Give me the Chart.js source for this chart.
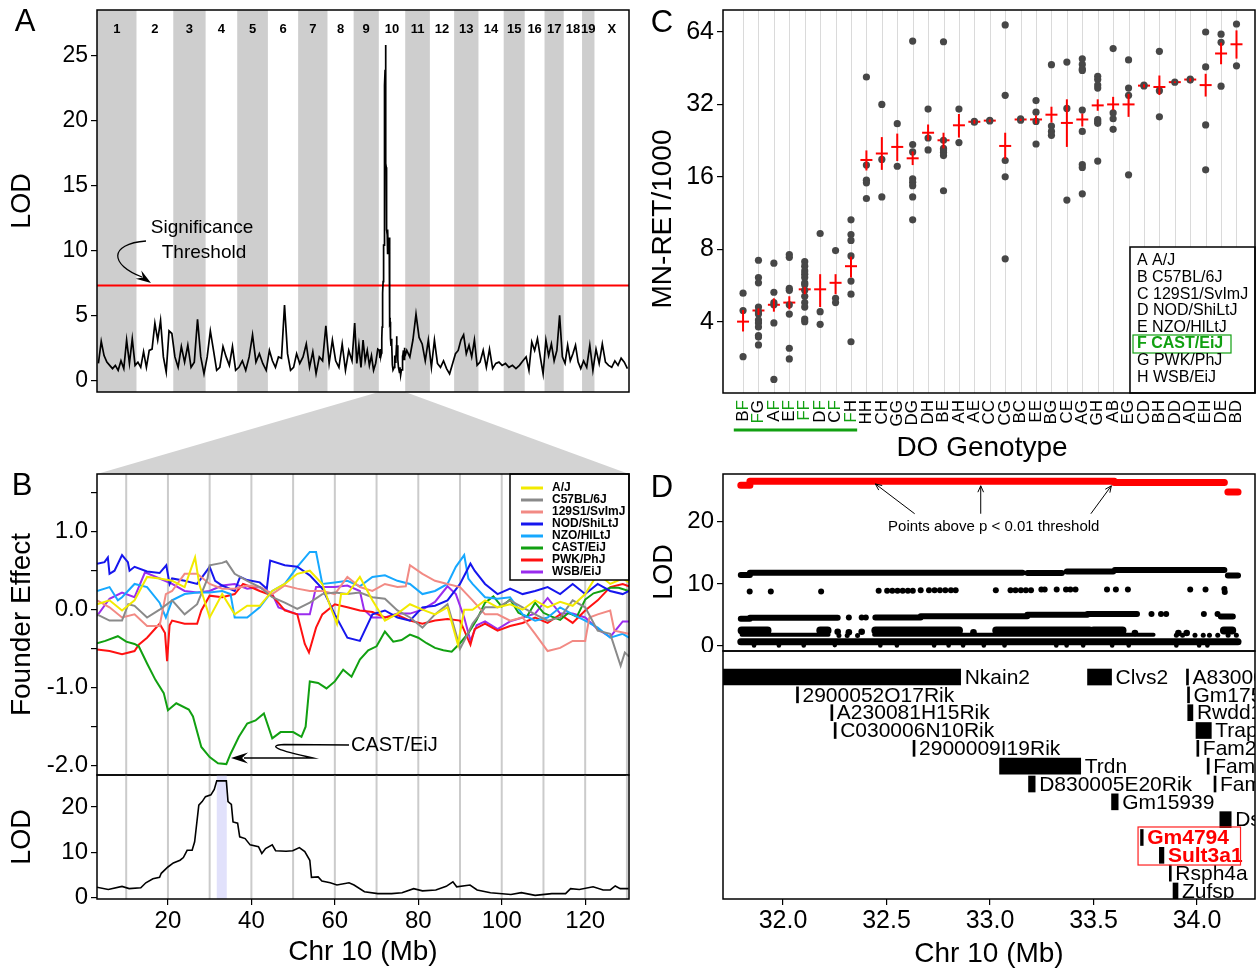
<!DOCTYPE html>
<html>
<head>
<meta charset="utf-8">
<title>MN-RET QTL on Chr 10</title>
<script src="https://cdn.jsdelivr.net/npm/chart.js@4.4.1/dist/chart.umd.min.js"></script>
<style>
html,body{margin:0;padding:0;background:#ffffff;}
#page{position:relative;width:1256px;height:971px;overflow:hidden;background:#ffffff;}
#page canvas{position:absolute;}
</style>
</head>
<body>
<div id="page">
<canvas id="bg" width="1256" height="971" style="left:0;top:0"></canvas>
<canvas id="cA" width="631" height="400" style="left:0;top:0"></canvas>
<canvas id="cBf" width="631" height="308" style="left:0;top:468px"></canvas>
<canvas id="cBl" width="631" height="201" style="left:0;top:770px"></canvas>
<canvas id="cC" width="616" height="470" style="left:640px;top:0"></canvas>
<canvas id="cDl" width="616" height="182" style="left:640px;top:470px"></canvas>
<canvas id="cDg" width="616" height="326" style="left:640px;top:645px"></canvas>
</div>
<script>
// ================= DATA =================
// ---- Panel A: genome scan ----
const chrNames = ['1','2','3','4','5','6','7','8','9','10','11','12','13','14','15','16','17','18','19','X'];
const chrLenMb = [195.5,182.1,160.0,156.5,151.8,149.7,145.4,129.4,124.6,130.7,122.1,120.1,120.4,124.9,104.0,98.2,95.0,90.7,61.4,171.0];
const lodChr1 = [1.3,3.0,1.9,1.4,1.15,0.9,1.15,0.77,1.5,0.9,3.1,1.3,3.2,1.15];
const lodChr2 = [1.4,1.0,2.2,1.0,2.3,2.4,4.4,3.1,4.6,1.8,0.64,3.8,3.6];
const lodChr3 = [1.8,1.0,2.6,1.4,2.7,1.0,1.4,4.7,1.8,0.5];
const lodChr4 = [1.8,3.8,2.3,0.77,1.0,2.6,1.8,1.15,2.6,0.77];
const lodChr5 = [1.0,1.5,0.77,1.8,3.5,1.4,2.05,1.3,0.77];
const lodChr6 = [2.3,1.5,1.0,1.8,1.7,5.8,2.05,0.77,1.0,2.05];
const lodChr7 = [1.3,1.8,2.8,1.0,2.2,0.5,1.8,1.5,4.2];
const lodChr8 = [1.3,3.1,1.5,1.0,2.8,0.77,2.3,1.5];
const lodChr9 = [4.4,1.3,2.7,1.0,3.1,1.5,2.3,1.15,1.9,0.77,1.3,2.4];
const lodChr11 = [2.3,1.8,3.1,5.1,3.3,2.8,1.5,3.1];
const lodChr12 = [1.0,3.1,1.3,1.0,1.5,0.9,0.5,1.3];
const lodChr13 = [2.05,2.3,3.1,3.5,2.05,2.7,1.8,3.1,1.15];
const lodChr14 = [1.4,2.3,1.0,2.4,0.9,1.3,1.4,1.15];
const lodChr15 = [1.3,1.0,1.15,0.9,1.15,1.5];
const lodChr16 = [1.8,0.77,2.95,2.3,3.2,1.8,0.5];
const lodChr17 = [3.1,1.9,2.8,1.5,2.3,5.0,1.8];
const lodChr18 = [1.3,2.7,1.5,2.05,2.7,1.4,0.9];
const lodChr19 = [1.5,1.0,2.7,0.77];
const lodChrX = [2.4,1.3,2.8,1.4,1.15,1.0,1.5,1.15,1.7,1.4,0.9];
const sigThreshold = 7.3;

// ---- Panel B: Chr 10 LOD and founder effects ----
const lodBMb  = [2.5,5.7,9.0,10.7,13.5,14.7,16.4,18.0,18.4,20.0,21.3,22.9,23.7,24.6,25.8,26.4,27.4,28.2,29.0,30.3,31.1,31.7,34.0,34.4,35.2,35.6,36.7,37.2,38.5,39.7,41.7,42.5,43.4,45.0,45.8,48.3,49.9,51.5,52.8,54.0,54.4,56.0,56.9,58.9,60.5,63.4,64.6,67.1,70.3,73.6,76.1,78.9,81.0,84.2,86.7,88.3,89.2,92.4,94.1,97.3,102.2,104.7,108.0,112.0,115.3,116.5,118.6,121.9,124.3,126.0,127.2,128.4,130.4];
const lodBVal = [2.3,1.7,2.4,1.9,2.1,3.2,4.1,4.4,5.3,6.7,7.6,8.2,8.8,10.4,10.4,12.3,20.4,21.2,22.3,22.7,23.9,25.8,25.8,21.2,20.6,16.7,16.4,13.4,13.0,11.6,11.2,9.7,10.8,11.6,10.3,10.2,10.3,11.0,10.1,8.2,4.4,4.5,3.6,3.2,2.7,3.2,2.7,1.2,0.8,0.8,1.0,1.9,1.4,1.6,2.4,3.4,2.3,2.7,1.6,1.0,0.6,1.0,0.4,0.8,0.8,1.9,1.7,2.3,1.6,1.6,2.5,1.9,1.9];
const peakIntervalMb = [31.7, 34.1];
const founderNames = ['A/J','C57BL/6J','129S1/SvImJ','NOD/ShiLtJ','NZO/HlLtJ','CAST/EiJ','PWK/PhJ','WSB/EiJ'];
const founderColors = ['#f2ea00','#8a8a8a','#f28a84','#1616ee','#16a8ff','#11a011','#ff1111','#9a2cee'];
const effAJ = [[3,0.07],[6,0.12],[9,-0.01],[12,0.12],[15,0.42],[18,0.40],[21,0.37],[24,0.29],[26.5,0.67],[27.5,0.33],[30,-0.10],[33,0.20],[36,-0.06],[39,0.05],[42,0.05],[45,0.24],[48,0.33],[51,0.46],[54,0.50],[57,0.33],[59,0.03],[60.5,-0.18],[61.5,0.20],[63,0.20],[66,0.42],[69,0.12],[72,-0.14],[75,-0.05],[78,0.07],[81,0.0],[84,-0.06],[87,0.03],[89.5,-0.45],[91,0.0],[93,0.0],[96,0.12],[99,0.03],[102,0.07],[105,0.0],[108,0.12],[111,0.03],[114,0.10],[117,0.05],[120,0.20],[123,0.46],[126,0.33],[129,0.40],[130.5,0.35]];
const effB6 = [[3,-0.06],[6,-0.14],[9,-0.14],[10.5,0.07],[12,0.05],[15,-0.10],[18,0.0],[21,0.12],[24,-0.06],[27,0.07],[29.5,0.40],[30,0.57],[33,0.60],[34,0.62],[36,0.46],[39,0.37],[42,0.29],[45,0.16],[48,0.09],[51,0.01],[54,0.09],[57,0.20],[60,0.22],[63,0.20],[66,0.22],[69,0.16],[72,0.14],[75,-0.01],[78,-0.10],[81,-0.23],[84,-0.06],[87,0.07],[89,-0.30],[90,-0.50],[91,-0.40],[93,-0.18],[96,0.03],[99,0.03],[102,0.12],[105,0.03],[108,-0.06],[111,-0.14],[114,-0.10],[117,0.12],[120,0.03],[123,-0.27],[126,-0.31],[128.5,-0.72],[129.5,-0.55],[130.5,-0.60]];
const eff129 = [[3,0.12],[6,0.03],[9,-0.10],[12,-0.06],[15,-0.21],[18,-0.21],[19.5,0.20],[21,0.24],[24,0.46],[27,0.46],[30,0.33],[33,0.27],[36,0.27],[39,0.31],[42,0.29],[45,0.20],[48,0.31],[51,0.27],[54,0.24],[57,0.24],[60,0.20],[63,0.42],[66,0.29],[69,0.24],[72,0.33],[75,0.29],[77,0.30],[78,0.57],[81,0.46],[84,0.37],[87,0.33],[90,0.29],[93,0.12],[96,-0.06],[99,-0.06],[102,-0.14],[105,-0.10],[108,-0.31],[111,-0.53],[114,-0.49],[117,-0.40],[120,-0.40],[121,-0.10],[123,-0.06],[126,-0.01],[127,-0.27],[130.5,-0.31]];
const effNOD = [[3,0.59],[4.8,0.61],[5.6,0.67],[6,0.46],[7.2,0.50],[9,0.70],[10.4,0.61],[10.8,0.50],[12,0.55],[15,0.49],[18,0.47],[19.6,0.57],[20.4,0.33],[21,0.40],[24,0.37],[27,0.33],[30,0.55],[31.3,0.37],[33,0.31],[36,0.24],[37.3,0.42],[39,0.38],[42,0.35],[43.7,0.27],[44.5,0.63],[48,0.57],[51,0.55],[54,0.44],[57,0.27],[60,-0.06],[63,-0.36],[66,-0.40],[69,-0.06],[72,-0.01],[75,-0.10],[78,-0.14],[81,0.03],[84,0.05],[87,0.12],[90,0.33],[92.5,0.59],[93.5,0.50],[96,0.33],[99,0.20],[102,0.27],[105,0.20],[108,0.24],[111,0.29],[114,0.20],[117,0.33],[120,0.20],[123,0.33],[126,0.24],[129,0.20],[130.5,0.24]];
const effNZO = [[3,0.24],[6,0.29],[8,0.12],[9,0.16],[12,0.33],[15,0.29],[18,0.09],[19.5,-0.10],[21,0.12],[24,0.20],[27,0.22],[30,0.22],[33,0.24],[35,0.20],[36,-0.10],[39,-0.10],[42,0.03],[45,0.24],[48,0.33],[51,0.55],[54,0.74],[55.5,0.74],[57,0.33],[60,0.35],[63,0.37],[66,0.30],[69,0.42],[72,0.44],[75,0.37],[78,0.33],[81,0.20],[84,0.24],[87,0.33],[89,0.55],[91,0.70],[92,0.40],[93,0.33],[96,0.16],[99,0.14],[102,0.16],[105,-0.06],[108,-0.14],[111,-0.10],[114,0.03],[117,-0.06],[120,-0.14],[123,-0.23],[126,-0.36],[129,-0.31],[130.5,-0.36]];
const effCAST = [[3,-0.43],[5,-0.40],[8,-0.34],[10,-0.41],[12,-0.44],[13,-0.47],[15,-0.69],[17,-0.90],[19,-1.07],[20,-1.29],[22,-1.20],[25,-1.28],[26,-1.37],[28,-1.76],[30,-1.89],[32,-1.97],[34,-1.98],[35,-1.85],[37,-1.63],[39,-1.46],[41,-1.42],[43,-1.33],[45,-1.65],[47,-1.57],[50,-1.57],[52,-1.63],[53,-1.50],[54,-0.92],[56,-0.94],[58,-1.01],[60,-0.92],[62,-0.77],[64,-0.86],[66,-0.64],[68,-0.52],[70,-0.47],[72,-0.28],[74,-0.41],[76,-0.39],[78,-0.32],[80,-0.36],[82,-0.43],[84,-0.49],[86,-0.52],[88,-0.54],[90,-0.43],[92,-0.30],[94,-0.13],[96,0.09],[98,0.17],[100,0.04],[102,0.13],[104,-0.04],[106,-0.09],[108,0.09],[110,-0.04],[112,-0.09],[114,-0.13],[116,-0.04],[118,-0.09],[120,0.13],[122,0.21],[124,0.24],[126,0.28],[128,0.28],[130.5,0.24]];
const effPWK = [[3,-0.51],[6,-0.53],[9,-0.57],[12,-0.53],[13,-0.45],[15,-0.36],[18,-0.18],[19.3,-0.30],[19.8,-0.66],[20.4,-0.20],[21,-0.14],[24,-0.18],[27,-0.18],[28,-0.01],[30,0.18],[33,0.16],[36,0.20],[38,0.33],[39,0.31],[42,0.24],[45,0.18],[48,-0.01],[51,-0.06],[52.8,-0.44],[53.8,-0.55],[55.5,-0.23],[57,-0.06],[60,0.07],[63,0.03],[66,-0.01],[69,-0.03],[72,-0.10],[75,-0.07],[78,-0.14],[81,-0.18],[84,-0.14],[87,-0.12],[90,-0.14],[92.5,-0.45],[93.5,-0.25],[96,-0.18],[99,-0.27],[102,-0.21],[105,-0.17],[108,-0.10],[111,-0.17],[114,-0.06],[117,-0.17],[120,-0.01],[123,0.12],[126,0.29],[129,0.33],[130.5,0.30]];
const effWSB = [[3,-0.08],[6,0.14],[9,0.22],[12,0.16],[14.5,0.48],[18,0.40],[21,0.33],[24,0.24],[27,0.22],[30,0.24],[33,0.31],[36,0.33],[39,0.27],[42,0.29],[45,0.20],[46.5,0.03],[48,0.0],[51,-0.06],[54,-0.06],[55.5,0.29],[57,0.29],[60,0.29],[63,0.31],[66,0.24],[67,0.0],[69,-0.10],[72,-0.10],[75,-0.05],[78,-0.05],[81,0.0],[84,0.10],[87,0.30],[89,0.20],[91,-0.10],[92.5,-0.40],[94,-0.20],[96,-0.15],[99,-0.25],[102,-0.15],[105,-0.10],[108,-0.05],[111,0.15],[114,-0.05],[117,-0.05],[120,-0.10],[123,-0.25],[126,-0.35],[129,-0.15],[130.5,-0.15]];
const chr10GridMb = [10,20,30,40,50,60,70,80,90,100,110,120,130];

// ---- Panel C: MN-RET by DO genotype ----
const genotypes = ['BF','FG','AF','EF','FF','DF','CF','FH','HH','CH','GG','DG','DH','BE','AH','AE','CC','CG','BC','EE','BG','CE','AG','GH','AB','EG','CD','BH','DD','AD','EH','DE','BD'];
const mnretMean = [4.0,4.45,4.7,4.8,5.45,5.45,5.8,6.8,18.8,20.0,21.3,19.1,24.4,22.7,26.2,27.1,27.4,21.5,27.7,27.7,29.0,26.8,27.7,31.7,32.0,32.0,38.3,37.8,39.6,40.6,38.5,52.1,56.9];
const mnretLo = [3.64,4.26,4.4,4.5,5.2,4.6,5.2,6.1,17.0,17.1,18.6,17.9,22.7,21.0,23.3,26.6,27.0,19.0,27.3,26.6,26.9,21.3,25.9,30.1,30.3,28.4,37.6,35.0,39.3,39.8,34.5,47.0,49.6];
const mnretHi = [4.47,4.54,5.0,5.1,5.58,6.3,6.3,7.45,20.6,23.4,24.2,20.4,26.4,24.4,29.2,27.6,27.7,24.4,27.9,28.8,31.3,33.6,29.3,33.6,34.4,35.4,38.8,42.2,39.9,41.1,42.9,57.8,65.0];
const mnretMice = [
 [5.25,4.45,2.86],
 [7.2,6.1,5.8,4.6,4.4,4.3,4.06,3.95,3.8,3.5,3.45,3.2],
 [7.0,5.3,4.8,4.7,3.95,2.3],
 [7.6,7.4,5.5,5.4,4.7,4.3,3.1,2.8],
 [7.1,6.8,6.5,6.3,6.1,5.8,5.7,5.4,5.1,4.8,4.6,4.1,4.0],
 [9.3,4.4,3.9],
 [7.9,5.0,4.8],
 [10.6,9.2,8.7,7.5,5.9,5.2,3.3],
 [41.6,17.9,15.5,15.1,13.0],
 [32.0,18.9,13.2],
 [26.6,17.7],
 [58.7,21.8,20.3,15.7,15.2,14.7,13.2,10.6],
 [30.6,23.2,20.7],
 [58.3,22.7,21.0,20.7,20.2,19.6,14.0],
 [30.6,22.2],
 [27.2,27.0],
 [27.5,27.3],
 [68.5,34.9,18.7,16.0,7.3],
 [27.9,27.5],
 [33.2,29.7,27.2,21.9],
 [46.8,26.0,24.7,23.8],
 [48.0,30.8,12.8],
 [49.5,46.9,44.9,44.3,30.3,24.7,18.0,17.5,13.6],
 [41.9,40.6,38.5,37.4,27.7,27.2,26.7,18.6],
 [54.6,29.5,27.9,25.2],
 [49.0,37.4,34.9,16.3],
 [38.5,38.2],
 [53.2,36.5,28.4],
 [39.6],
 [40.8,40.4],
 [64.0,45.8,26.3,17.1],
 [62.7,58.0,38.1],
 [69.1,46.3]
];
const founderKey = ['A A/J','B C57BL/6J','C 129S1/SvImJ','D NOD/ShiLtJ','E NZO/HlLtJ','F CAST/EiJ','G PWK/PhJ','H WSB/EiJ'];
const cTicks = [4,8,16,32,64];

// ---- Panel D: fine mapping ----
const redBandSeg = [[31.796,31.84,25.9],[31.84,33.60,26.55],[33.60,34.132,26.35],[34.149,34.198,24.8]];
const topBandSeg = [[31.796,31.84,11.45],[31.84,33.157,11.8],[33.181,33.347,11.75],[33.371,33.595,12.0],[33.603,34.132,12.25],[34.149,34.198,11.35]];
const nineDotMb  = [31.839,31.941,32.184,32.462,32.503,32.528,32.553,32.578,32.603,32.627,32.665,32.705,32.732,32.758,32.784,32.811,32.834,33.028,33.099,33.123,33.149,33.173,33.198,33.248,33.264,33.322,33.367,33.388,33.413,33.565,33.608,33.666,33.967,34.041,34.132,34.134];
const nineDotLod = [8.8,8.8,8.8,8.9,8.9,8.9,8.9,8.9,8.9,8.9,9.0,9.0,9.0,9.0,9.0,9.0,9.0,9.0,9.0,9.0,9.0,9.0,9.0,9.1,9.1,9.1,9.1,9.1,9.1,9.1,9.1,9.1,9.1,9.1,9.2,8.7];
const midBandSeg = [[31.796,31.84,4.4],[31.84,32.264,4.55],[32.446,32.665,4.6],[32.665,33.18,4.8],[33.18,33.47,5.05],[33.47,33.71,5.15],[34.115,34.173,4.75]];
const midDots = [[32.318,4.6],[32.38,4.6],[32.40,4.6],[33.780,5.15],[33.826,5.15],[33.851,5.15],[34.033,5.15],[34.099,5.15]];
const blobSeg = [[31.80,31.925,2.5],[32.18,32.215,2.5],[32.446,32.85,2.5],[33.03,33.48,2.5],[33.50,33.64,2.5],[34.13,34.17,2.5]];
const blobDots = [[32.264,2.3],[32.318,2.2],[32.38,2.3],[32.92,2.2],[33.70,2.1],[33.91,2.1],[33.95,2.1]];
const lowLineSeg = [[31.80,32.22,1.8],[32.44,33.79,1.8]];
const lowLineDots = [[32.27,1.7],[32.31,1.7],[32.36,1.7],[33.90,1.75],[33.93,1.75],[33.99,1.75],[34.03,1.75],[34.06,1.75],[34.10,1.75],[34.15,1.75],[34.19,1.75]];
const baseSeg = [[31.796,34.198,0.7]];
const baseDots = [[31.86,0.1],[31.98,0.1],[32.10,0.1],[32.25,0.15],[32.47,0.1],[32.55,0.1],[32.73,0.1],[32.80,0.1],[32.87,0.1],[32.97,0.1],[33.07,0.1],[33.32,0.1],[33.37,0.1],[33.45,0.1],[33.59,0.1],[33.67,0.1],[33.90,0.1],[34.01,0.1],[34.05,0.1]];
const geneName    = ['Nkain2','Clvs2','A830008E24Rik','2900052O17Rik','Gm17586','A230081H15Rik','Rwdd1','C030006N10Rik','Trappc3l','2900009I19Rik','Fam26d','Trdn','Fam26e','D830005E20Rik','Fam26f','Gm15939','Dse','Gm4794','Sult3a1','Rsph4a','Zufsp'];
const geneStartMb = [31.50,33.471,33.949,32.065,33.954,32.231,33.955,32.247,33.995,32.628,33.999,33.046,34.049,33.186,34.082,33.587,34.110,33.727,33.818,33.866,33.884];
const geneEndMb   = [32.858,33.587,33.950,32.066,33.955,32.232,33.980,32.248,34.069,32.629,34.000,33.438,34.050,33.218,34.083,33.619,34.165,33.740,33.840,33.868,33.908];
const geneRow     = [0,0,0,1,1,2,2,3,3,4,4,5,5,6,6,7,8,9,10,11,12];
const highlightGenes = ['Gm4794','Sult3a1'];

// ================= SETUP =================
const FONT = "'Liberation Sans', Arial, Helvetica, sans-serif";
Chart.defaults.font.family = FONT;
Chart.defaults.color = '#000';
Chart.defaults.animation = false;
Chart.defaults.responsive = false;
Chart.defaults.maintainAspectRatio = false;
Chart.defaults.devicePixelRatio = 1;
Chart.defaults.events = [];
Chart.defaults.layout.autoPadding = false;
Chart.defaults.plugins.legend.display = false;
Chart.defaults.plugins.tooltip.enabled = false;

function fixedTicks(vals){ return s => { s.ticks = vals.map(v => ({value: v})); }; }
function fitY(w){ return s => { s.width = w; s.paddingTop = 0; s.paddingBottom = 0; }; }
function fitX(h){ return s => { s.height = h; s.paddingLeft = 0; s.paddingRight = 0; }; }
const tickGrid = {drawOnChartArea:false, drawTicks:true, tickLength:6, color:'#000', lineWidth:1.2};
function lay(l, r, t, b){ return {autoPadding:false, padding:{left:l, right:r, top:t, bottom:b}}; }

const framePlugin = { id:'frame', afterDraw(chart){ const {ctx, chartArea:a} = chart; ctx.save(); ctx.strokeStyle='#000'; ctx.lineWidth=1.5; ctx.strokeRect(a.left, a.top, a.right-a.left, a.bottom-a.top); ctx.restore(); } };

function stealth(ctx, x, y, ang, len, hw){ ctx.save(); ctx.translate(x,y); ctx.rotate(ang); ctx.beginPath(); ctx.moveTo(0,0); ctx.lineTo(-len,-hw); ctx.lineTo(-len*0.65,0); ctx.lineTo(-len,hw); ctx.closePath(); ctx.fill(); ctx.restore(); }
function openArrow(ctx, x0, y0, x1, y1){ ctx.beginPath(); ctx.moveTo(x0,y0); ctx.lineTo(x1,y1); const ang=Math.atan2(y1-y0,x1-x0), L=7, w=0.42; ctx.moveTo(x1-L*Math.cos(ang-w), y1-L*Math.sin(ang-w)); ctx.lineTo(x1,y1); ctx.lineTo(x1-L*Math.cos(ang+w), y1-L*Math.sin(ang+w)); ctx.stroke(); }
function segPts(segs){ const out=[]; segs.forEach(s => { out.push({x:s[0],y:s[2]},{x:s[1],y:s[2]},{x:s[1],y:null}); }); return out; }

// ================= PANEL A =================
const genomeScan = [lodChr1,lodChr2,lodChr3,lodChr4,lodChr5,lodChr6,lodChr7,lodChr8,lodChr9,null,lodChr11,lodChr12,lodChr13,lodChr14,lodChr15,lodChr16,lodChr17,lodChr18,lodChr19,lodChrX];
const chrStartMb = []; let genomeLenMb = 0;
chrLenMb.forEach(l => { chrStartMb.push(genomeLenMb); genomeLenMb += l; });
const scanPoints = [];
genomeScan.forEach((vals, i) => {
  if (vals === null) lodBMb.forEach((m, j) => scanPoints.push({x: chrStartMb[i] + m, y: lodBVal[j]}));
  else vals.forEach((v, j) => scanPoints.push({x: chrStartMb[i] + (j + 0.5) / vals.length * chrLenMb[i], y: v}));
});

const chrBandsPlugin = { id:'chrBands', beforeDatasetsDraw(chart){
  const {ctx, chartArea:a, scales:{x}} = chart; ctx.save();
  chrLenMb.forEach((len,i) => { if (i % 2 === 0) { const x0 = x.getPixelForValue(chrStartMb[i]), x1 = x.getPixelForValue(chrStartMb[i]+len); ctx.fillStyle = '#cecece'; ctx.fillRect(x0, a.top, x1-x0, a.bottom-a.top); } });
  ctx.fillStyle = '#000'; ctx.font = 'bold 13px ' + FONT; ctx.textAlign = 'center'; ctx.textBaseline = 'middle';
  chrLenMb.forEach((len,i) => { ctx.fillText(chrNames[i], x.getPixelForValue(chrStartMb[i]+len/2), 29); });
  ctx.restore(); } };
const annotA = { id:'annotA', afterDatasetsDraw(chart){
  const ctx = chart.ctx; ctx.save(); ctx.fillStyle='#000'; ctx.font='19px '+FONT; ctx.textAlign='center'; ctx.textBaseline='middle';
  ctx.fillText('Significance', 202, 228); ctx.fillText('Threshold', 204, 253);
  ctx.strokeStyle='#000'; ctx.lineWidth=1.3; ctx.beginPath(); ctx.moveTo(146,241); ctx.bezierCurveTo(108,244,110,265,142,277); ctx.stroke();
  stealth(ctx, 151, 283, Math.atan2(6,9), 15, 5);
  ctx.restore(); } };

const chartA = new Chart(document.getElementById('cA'), {
  type:'line',
  data:{ datasets:[
    {data: scanPoints, borderColor:'#000', borderWidth:1.7, pointRadius:0, tension:0},
    {data: [{x:0,y:sigThreshold},{x:genomeLenMb,y:sigThreshold}], borderColor:'#ff0000', borderWidth:2, pointRadius:0}
  ]},
  options:{
    layout: lay(0, 2, 10, 8),
    scales:{
      x:{type:'linear', min:0, max:genomeLenMb, display:false},
      y:{min:-0.9, max:28.5, border:{display:false}, grid:tickGrid, afterBuildTicks:fixedTicks([0,5,10,15,20,25]), afterFit:fitY(97),
         ticks:{font:{size:23}, padding:3, callback:v => String(v)},
         title:{display:true, text:'LOD', font:{size:27}, padding:{top:6, bottom:0}}}
    }
  },
  plugins:[chrBandsPlugin, annotA, framePlugin]
});

// ================= PANEL B =================
const gridPlugin = { id:'chr10grid', beforeDatasetsDraw(chart){
  const {ctx, chartArea:a, scales:{x}} = chart; ctx.save();
  if (chart.canvas.id === 'cBl') { const p0 = x.getPixelForValue(peakIntervalMb[0]), p1 = x.getPixelForValue(peakIntervalMb[1]); ctx.fillStyle = '#e1e1fb'; ctx.fillRect(p0, a.top, p1-p0, a.bottom-a.top); }
  ctx.strokeStyle = '#cbcbcb'; ctx.lineWidth = 2;
  chr10GridMb.forEach(m => { const px = x.getPixelForValue(m); if (px > a.left + 1 && px < a.right - 1) { ctx.beginPath(); ctx.moveTo(px, a.top); ctx.lineTo(px, a.bottom); ctx.stroke(); } });
  ctx.restore(); } };
const founderLegend = { id:'founderLegend', afterDatasetsDraw(chart){
  const ctx = chart.ctx, oy = 468; ctx.save();
  ctx.fillStyle = '#fff'; ctx.fillRect(510, 474-oy, 119, 106); ctx.strokeStyle = '#000'; ctx.lineWidth = 1.5; ctx.strokeRect(510, 474-oy, 119, 106);
  ctx.font = 'bold 12px ' + FONT; ctx.textAlign = 'left'; ctx.textBaseline = 'middle';
  founderNames.forEach((n,i) => { const y = 488 + i*12 - oy; ctx.strokeStyle = founderColors[i]; ctx.lineWidth = 3; ctx.beginPath(); ctx.moveTo(521,y); ctx.lineTo(543,y); ctx.stroke(); ctx.fillStyle = '#000'; ctx.fillText(n, 552, y); });
  ctx.fillStyle = '#000'; ctx.font = '20px ' + FONT; ctx.fillText('CAST/EiJ', 351, 745-oy);
  ctx.strokeStyle = '#000'; ctx.lineWidth = 1.3; ctx.beginPath(); ctx.moveTo(349, 745-oy); ctx.lineTo(284, 744.5-oy); ctx.quadraticCurveTo(258, 746-oy, 313, 758-oy); ctx.lineTo(244, 758-oy); ctx.stroke();
  stealth(ctx, 231, 758-oy, Math.PI, 17, 5.5);
  ctx.restore(); } };

const founderDatasets = [effAJ, effB6, eff129, effNOD, effNZO, effCAST, effPWK, effWSB].map((s,i) => ({
  data: s.map(p => ({x:p[0], y:p[1]})), borderColor: founderColors[i], borderWidth: 2, pointRadius: 0, tension: 0 }));

const chartBf = new Chart(document.getElementById('cBf'), {
  type:'line',
  data:{ datasets: founderDatasets },
  options:{
    layout: lay(0, 2, 6, 1),
    scales:{
      x:{type:'linear', min:3, max:130.5, display:false},
      y:{min:-2.12, max:1.74, border:{display:false}, grid:tickGrid, afterBuildTicks:fixedTicks([-2,-1.5,-1,-0.5,0,0.5,1,1.5]), afterFit:fitY(97),
         ticks:{font:{size:24}, padding:3, callback:v => Number.isInteger(v) ? v.toFixed(1) : ''},
         title:{display:true, text:'Founder Effect', font:{size:28}, padding:{top:5, bottom:0}}}
    }
  },
  plugins:[gridPlugin, founderLegend, framePlugin]
});

const chartBl = new Chart(document.getElementById('cBl'), {
  type:'line',
  data:{ datasets:[{data: lodBMb.map((m,i) => ({x:m, y:lodBVal[i]})), borderColor:'#000', borderWidth:1.6, pointRadius:0, tension:0}] },
  options:{
    layout: lay(0, 2, 5, 0),
    scales:{
      x:{type:'linear', min:3, max:130.5, border:{display:false}, grid:tickGrid, afterBuildTicks:fixedTicks([20,40,60,80,100,120]), afterFit:fitX(72),
         ticks:{font:{size:24}, padding:2, maxRotation:0, autoSkip:false},
         title:{display:true, text:'Chr 10 (Mb)', font:{size:28}, padding:{top:0, bottom:2}}},
      y:{min:-0.4, max:27.1, border:{display:false}, grid:tickGrid, afterBuildTicks:fixedTicks([0,5,10,15,20,25]), afterFit:fitY(97),
         ticks:{font:{size:24}, padding:3, callback:v => (v % 10 === 0 ? String(v) : '')},
         title:{display:true, text:'LOD', font:{size:27}, padding:{top:6, bottom:0}}}
    }
  },
  plugins:[gridPlugin, framePlugin]
});

// ================= PANEL C =================
const dotPoints = []; mnretMice.forEach((arr,i) => arr.forEach(v => dotPoints.push({x:i, y:v})));
const cGridPlugin = { id:'cGrid', beforeDatasetsDraw(chart){
  const {ctx, chartArea:a, scales:{x}} = chart; ctx.save(); ctx.strokeStyle = '#dadada'; ctx.lineWidth = 1;
  genotypes.forEach((g,i) => { const px = Math.round(x.getPixelForValue(i)) + 0.5; ctx.beginPath(); ctx.moveTo(px, a.top); ctx.lineTo(px, a.bottom); ctx.stroke(); });
  ctx.restore(); } };
const cErrPlugin = { id:'cErr', afterDatasetsDraw(chart){
  const {ctx, scales:{x,y}} = chart; ctx.save(); ctx.strokeStyle = '#ff0000'; ctx.lineWidth = 2;
  genotypes.forEach((g,i) => { const px = x.getPixelForValue(i); ctx.beginPath(); ctx.moveTo(px, y.getPixelForValue(mnretLo[i])); ctx.lineTo(px, y.getPixelForValue(mnretHi[i])); ctx.stroke(); });
  const ox = 640; ctx.fillStyle = '#fff'; ctx.fillRect(1130-ox, 247, 125, 146); ctx.strokeStyle = '#000'; ctx.lineWidth = 1.5; ctx.strokeRect(1130-ox, 247, 125, 146);
  ctx.textAlign = 'left'; ctx.textBaseline = 'middle';
  founderKey.forEach((t,i) => { const yy = 261 + i*16.6; if (i === 5) { ctx.font = 'bold 16px ' + FONT; ctx.fillStyle = '#11a011'; ctx.fillText(t, 1137-ox, yy); ctx.strokeStyle = '#11a011'; ctx.lineWidth = 1.2; ctx.strokeRect(1133-ox, yy-9, 98, 18); } else { ctx.font = '16px ' + FONT; ctx.fillStyle = '#000'; ctx.fillText(t, 1137-ox, yy); } });
  ctx.restore(); } };
const cLabelsPlugin = { id:'cLabels', afterDraw(chart){
  const {ctx, scales:{x}} = chart; ctx.save(); ctx.font = '17px ' + FONT; ctx.textBaseline = 'middle'; ctx.textAlign = 'left';
  genotypes.forEach((g,i) => { const px = x.getPixelForValue(i); const w = ctx.measureText(g).width; ctx.save(); ctx.translate(px, 400); ctx.rotate(-Math.PI/2); let cx = -w;
    for (const ch of g) { ctx.fillStyle = ch === 'F' ? '#11a011' : '#000'; ctx.fillText(ch, cx, 0); cx += ctx.measureText(ch).width; } ctx.restore(); });
  ctx.strokeStyle = '#11a011'; ctx.lineWidth = 3; ctx.beginPath(); ctx.moveTo(x.getPixelForValue(-0.6), 430); ctx.lineTo(x.getPixelForValue(7.4), 430); ctx.stroke();
  ctx.fillStyle = '#000'; ctx.font = '28px ' + FONT; ctx.textAlign = 'center'; ctx.fillText('DO Genotype', 342, 448);
  ctx.save(); ctx.translate(23, 219); ctx.rotate(-Math.PI/2); ctx.fillText('MN-RET/1000', 0, 0); ctx.restore();
  ctx.restore(); } };

const chartC = new Chart(document.getElementById('cC'), {
  type:'scatter',
  data:{ datasets:[
    {data: dotPoints, pointRadius:3.6, backgroundColor:'#474747', borderWidth:0},
    {data: mnretMean.map((m,i) => ({x:i, y:m})), pointStyle:'line', pointRadius:6, borderColor:'#ff0000', borderWidth:2}
  ]},
  options:{
    layout: lay(0, 1, 10, 77),
    scales:{
      x:{type:'linear', min:-1.3, max:33.2, display:false},
      y:{type:'logarithmic', min:2.02, max:79, border:{display:false}, grid:tickGrid, afterBuildTicks:fixedTicks(cTicks), afterFit:fitY(83),
         ticks:{font:{size:25}, padding:3, callback:v => String(v)}}
    }
  },
  plugins:[cGridPlugin, cErrPlugin, framePlugin, cLabelsPlugin]
});

// ================= PANEL D =================
const annotD = { id:'annotD', afterDatasetsDraw(chart){
  const {ctx, scales:{x,y}} = chart; ctx.save(); ctx.font = '15px ' + FONT; ctx.fillStyle = '#000'; ctx.textAlign = 'center'; ctx.textBaseline = 'middle';
  ctx.fillText('Points above p < 0.01 threshold', x.getPixelForValue(33.018), y.getPixelForValue(19.2));
  ctx.strokeStyle = '#000'; ctx.lineWidth = 1;
  [[32.636,21.3,32.446,26.1],[32.955,21.3,32.955,25.8],[33.487,21.3,33.586,25.8]].forEach(a => openArrow(ctx, x.getPixelForValue(a[0]), y.getPixelForValue(a[1]), x.getPixelForValue(a[2]), y.getPixelForValue(a[3])));
  ctx.font = '27px ' + FONT; ctx.save(); ctx.translate(24.5, 102); ctx.rotate(-Math.PI/2); ctx.fillText('LOD', 0, 0); ctx.restore();
  ctx.restore(); } };
const band = (segs, color, w) => ({data: segPts(segs), showLine:true, borderColor:color, borderWidth:w, borderCapStyle:'round', pointRadius:0, spanGaps:false});
const dots = (pairs, r) => ({data: pairs.map(p => ({x:p[0], y:p[1]})), pointRadius:r, backgroundColor:'#000', borderWidth:0});

const chartDl = new Chart(document.getElementById('cDl'), {
  type:'scatter',
  data:{ datasets:[
    band(redBandSeg, '#ff0000', 7),
    band(topBandSeg, '#000', 6),
    {data: nineDotMb.map((m,i) => ({x:m, y:nineDotLod[i]})), pointRadius:3, backgroundColor:'#000', borderWidth:0},
    band(midBandSeg, '#000', 6), dots(midDots, 3),
    band(blobSeg, '#000', 8), dots(blobDots, 3.3),
    band(lowLineSeg, '#000', 4), dots(lowLineDots, 2.5),
    band(baseSeg, '#000', 7), dots(baseDots, 2.3)
  ]},
  options:{
    layout: lay(0, 1, 4, 1),
    scales:{
      x:{type:'linear', min:31.71, max:34.28, display:false},
      y:{min:-0.8, max:27.7, border:{display:false}, grid:tickGrid, afterBuildTicks:fixedTicks([0,5,10,15,20,25]), afterFit:fitY(83),
         ticks:{font:{size:24}, padding:3, callback:v => (v % 10 === 0 ? String(v) : '')}}
    }
  },
  plugins:[annotD, framePlugin]
});

const geneLabels = { id:'geneLabels', afterDatasetsDraw(chart){
  const {ctx, chartArea:a, scales:{x,y}} = chart; ctx.save(); ctx.beginPath(); ctx.rect(a.left, a.top, a.right-a.left, a.bottom-a.top); ctx.clip();
  ctx.textAlign = 'left'; ctx.textBaseline = 'middle';
  geneName.forEach((n,i) => { const hl = highlightGenes.includes(n); ctx.font = (hl ? 'bold ' : '') + '21px ' + FONT; ctx.fillStyle = hl ? '#ff0000' : '#000';
    const px = Math.max(x.getPixelForValue(geneEndMb[i]), x.getPixelForValue(geneStartMb[i]) + 2) + 4; ctx.fillText(n, px, y.getPixelForValue(geneRow[i]) + 1); });
  const r9 = y.getPixelForValue(9), r10 = y.getPixelForValue(10), bx0 = x.getPixelForValue(33.715), bx1 = x.getPixelForValue(34.21);
  ctx.strokeStyle = '#ff2020'; ctx.lineWidth = 1.2; ctx.strokeRect(bx0, r9 - 10.5, bx1 - bx0, (r10 + 9.7) - (r9 - 10.5));
  ctx.restore(); } };

const chartDg = new Chart(document.getElementById('cDg'), {
  type:'bar',
  data:{ datasets:[{ data: geneName.map((n,i) => ({x:[geneStartMb[i], geneEndMb[i]], y:geneRow[i]})), backgroundColor:'#000', barThickness:16, minBarLength:2, clip:0 }] },
  options:{
    indexAxis:'y',
    layout: lay(83, 1, 6, 0),
    scales:{
      x:{type:'linear', min:31.71, max:34.28, border:{display:false}, grid:tickGrid, afterBuildTicks:fixedTicks([32,32.5,33,33.5,34]), afterFit:fitX(72),
         ticks:{font:{size:25}, padding:1, maxRotation:0, autoSkip:false, callback:v => Number(v).toFixed(1)},
         title:{display:true, text:'Chr 10 (Mb)', font:{size:28}, padding:{top:0, bottom:0}}},
      y:{type:'linear', min:-1.46, max:12.45, reverse:true, offset:false, display:false}
    }
  },
  plugins:[geneLabels, framePlugin]
});

// ================= BACKGROUND: zoom wedge + panel letters =================
(function(){
  const g = document.getElementById('bg').getContext('2d');
  const ax = chartA.scales.x;
  const t0 = ax.getPixelForValue(chrStartMb[9]), t1 = ax.getPixelForValue(chrStartMb[9] + chrLenMb[9]);
  const aBot = chartA.chartArea.bottom, bTop = 468 + chartBf.chartArea.top;
  g.fillStyle = '#d3d3d3'; g.beginPath(); g.moveTo(t0, aBot); g.lineTo(t1, aBot); g.lineTo(chartBf.chartArea.right, bTop); g.lineTo(chartBf.chartArea.left, bTop); g.closePath(); g.fill();
  g.fillStyle = '#000'; g.font = '31px ' + FONT; g.textAlign = 'center'; g.textBaseline = 'middle';
  [['A',25,22],['B',22,486],['C',662,23],['D',662,488]].forEach(l => g.fillText(l[0], l[1], l[2]));
})();
</script>
</body>
</html>
